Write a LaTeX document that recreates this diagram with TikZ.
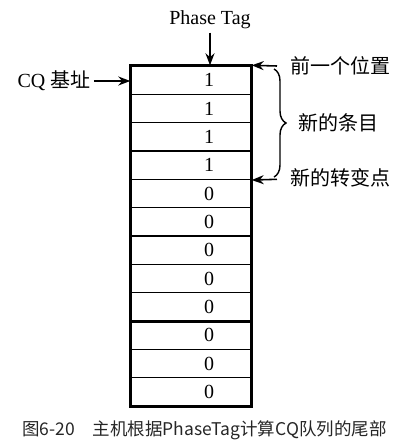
\documentclass[tikz,border=0pt]{standalone}
\usepackage{fontspec}
\setmainfont{Liberation Serif}
\newfontfamily\cjk{Noto Sans CJK SC}
\usetikzlibrary{arrows.meta,decorations.pathreplacing}
\tikzset{
	cell/.style={draw, line width=0.5mm, minimum width=120pt, minimum height=28.33pt, inner sep=0pt},
	bit/.style={xshift=18pt, font=\fontsize{20}{20}\selectfont},
	arr/.style={line width=0.55mm, -{Stealth[length=12pt,width=9pt]}},
	zh/.style={font=\cjk\fontsize{20}{20}\selectfont}
}

\begin{document}
\begin{tikzpicture}[x=1pt, y=-1pt]
		%%%%% START %%%%%
		\useasboundingbox (0, 0) rectangle (403, 448);
		
		\node[cell, label={[bit]center:1}] (c1) at (191, 80.17) {};
		\node[cell, label={[bit]center:1}] (c2) at (191, 108.5) {};
		\node[cell, label={[bit]center:1}] (c3) at (191, 136.83) {};
		\node[cell, label={[bit]center:1}] (c4) at (191, 165.17) {};
		\node[cell, label={[bit]center:0}] (c5) at (191, 193.5) {};
		\node[cell, label={[bit]center:0}] (c6) at (191, 221.83) {};
		\node[cell, label={[bit]center:0}] (c7) at (191, 250.17) {};
		\node[cell, label={[bit]center:0}] (c8) at (191, 278.5) {};
		\node[cell, label={[bit]center:0}] (c9) at (191, 306.83) {};
		\node[cell, label={[bit]center:0}] (c10) at (191, 335.17) {};
		\node[cell, label={[bit]center:0}] (c11) at (191, 363.5) {};
		\node[cell, label={[bit]center:0}] (c12) at (191, 391.83) {};
		
		\draw[line width=0.65mm] (c1.north west) rectangle (c12.south east);
		\draw[line width=0.8mm] (c9.south west) -- (c9.south east);
		
		\node[font=\fontsize{20}{20}\selectfont] (tag) at (210, 20) {Phase Tag};
		\draw[arr] (tag.south) -- (tag.south |- c1.north);
		
		\node[font=\fontsize{20}{20}\selectfont] (base) at (54, 81) {CQ {\cjk 基址}};
		\draw[arr] (base.east) -- (base.east -| c1.west);
		
		\node[zh] (prev) at (340, 66) {前一个位置};
		\node[zh] (newent) at (338, 123) {新的条目};
		\node[zh] (turn) at (340, 178) {新的转变点};
		
		\coordinate (prevtail) at (277, 66);
		\coordinate (turntail) at (277, 179.3);
		\draw[arr] (prevtail) -- (c1.north east);
		\draw[arr] (turntail) -- (c4.south east);
		
		\draw[line width=0.5mm, decorate, decoration={brace, amplitude=12pt, aspect=0.5}] (274, 69) -- (274, 177);
		
		\node[font=\cjk\fontsize{17.5}{17.5}\selectfont, color=black!85] (cap) at (204.5, 430) {图6-20\quad 主机根据PhaseTag计算CQ队列的尾部};
		
		%%%%% END %%%%%
\end{tikzpicture}
\end{document}
